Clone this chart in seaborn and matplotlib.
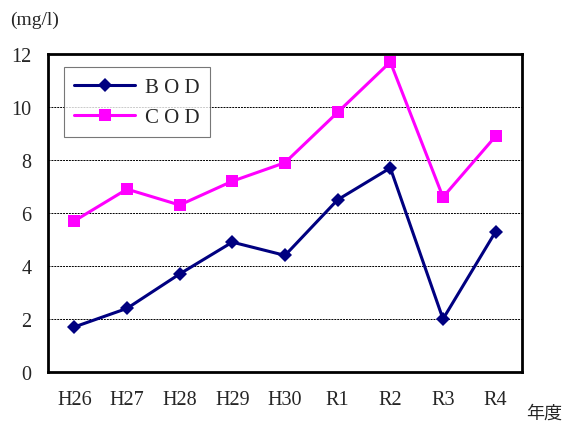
import pandas as pd
import matplotlib.pyplot as plt
import seaborn as sns
from matplotlib.ticker import FixedLocator

# データ
years = ["H26", "H27", "H28", "H29", "H30", "R1", "R2", "R3", "R4"]
bod = [1.7, 2.4, 3.7, 4.9, 4.4, 6.5, 7.7, 2.0, 5.3]
cod = [5.7, 6.9, 6.3, 7.2, 7.9, 9.8, 11.7, 6.6, 8.9]

df = pd.DataFrame({
    "year": years * 2,
    "x": list(range(len(years))) * 2,
    "value": bod + cod,
    "item": ["B O D"] * len(years) + ["C O D"] * len(years),
})

sns.set_style("white")
plt.rcParams["font.family"] = ["Liberation Serif", "Noto Sans CJK JP", "DejaVu Sans"]

fig = plt.figure(figsize=(5.68, 4.27), dpi=100)
ax = fig.add_axes([48 / 568, 54 / 427, 474 / 568, 318 / 427])

sns.lineplot(
    data=df, x="x", y="value", hue="item", style="item",
    palette={"B O D": "#000080", "C O D": "#FF00FF"},
    markers={"B O D": "D", "C O D": "s"}, dashes=False,
    markersize=8, linewidth=2.2, markeredgewidth=0, ax=ax,
)
for line in ax.lines:
    if line.get_marker() == "D":
        line.set_markersize(7)
    elif line.get_marker() == "s":
        line.set_markersize(9)

ax.set_xlim(-0.5, len(years) - 0.5)
ax.set_ylim(0, 12)
ax.set_yticks(range(0, 13, 2))
ax.set_xticks(range(len(years)))
ax.set_xticklabels(years)
ax.xaxis.set_minor_locator(FixedLocator([i + 0.5 for i in range(len(years) - 1)]))
ax.tick_params(axis="x", which="major", length=0, pad=13, labelsize=14.5)
ax.tick_params(axis="x", which="minor", direction="in", length=5, width=1, color="black")
ax.tick_params(axis="y", length=0, pad=12, labelsize=14.5)

for y in range(2, 12, 2):
    ax.axhline(y, color="black", linewidth=0.7, linestyle=(0, (2, 1)), zorder=0)

for s in ax.spines.values():
    s.set_color("black")
    s.set_linewidth(2)

ax.set_xlabel("")
ax.set_ylabel("")

leg = ax.legend(
    loc="upper left", bbox_to_anchor=(16 / 474, 1 - 13 / 318),
    borderaxespad=0, frameon=True, fancybox=False, edgecolor="#555555",
    fontsize=15, handlelength=2.9, handletextpad=0.5, borderpad=0.5,
    labelspacing=0.5,
)
leg.get_frame().set_linewidth(0.8)

fig.text(10 / 568, 1 - 20 / 427, "(mg/l)", fontsize=14, va="center", ha="left")
fig.text(526 / 568, 1 - 414 / 427, "年度", fontsize=13, va="center", ha="left",
         family=["Noto Sans CJK JP", "DejaVu Sans"])

plt.savefig("out.png", dpi=100)
plt.close()
